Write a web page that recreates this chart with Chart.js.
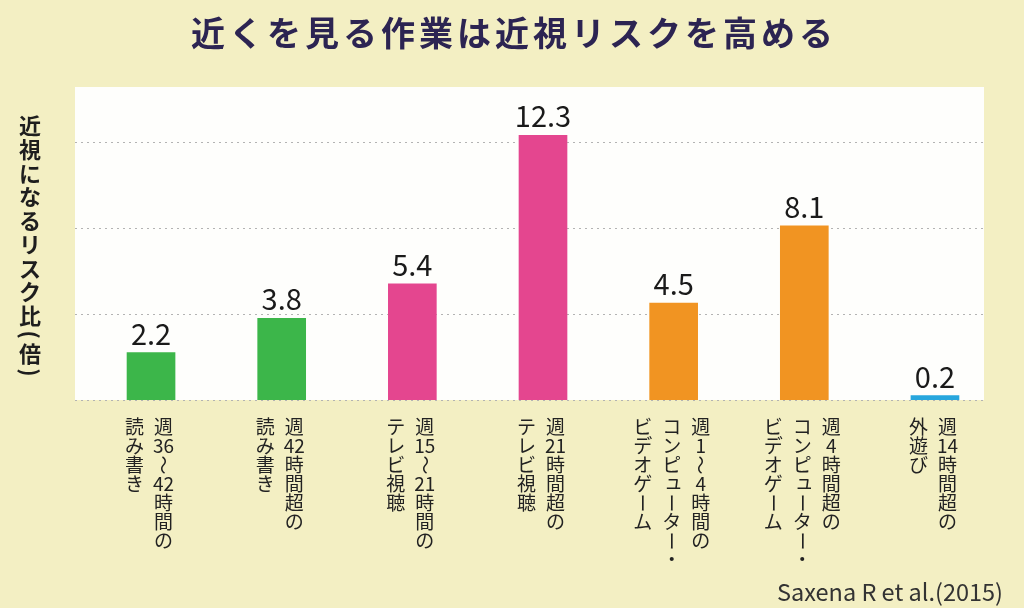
<!DOCTYPE html>
<html><head><meta charset="utf-8">
<script src="https://cdn.jsdelivr.net/npm/chart.js@4"></script>
<style>html,body{margin:0;padding:0;background:#f3efc3;}#wrap{width:1024px;height:608px;position:relative}</style>
</head><body><div id="wrap"><canvas id="c" width="1024" height="608"></canvas></div>
<script>
const titleText = '近くを見る作業は近視リスクを高める';
const yAxisTitle = '近視になるリスク比(倍)';
const sourceText = 'Saxena R et al.(2015)';
const categories = [
  ['週36～42時間の', '読み書き'],
  ['週42時間超の', '読み書き'],
  ['週15～21時間の', 'テレビ視聴'],
  ['週21時間超の', 'テレビ視聴'],
  ['週1～4時間の', 'コンピューター・', 'ビデオゲーム'],
  ['週4時間超の', 'コンピューター・', 'ビデオゲーム'],
  ['週14時間超の', '外遊び']
];
const riskRatios = [2.2, 3.8, 5.4, 12.3, 4.5, 8.1, 0.2];
const valueLabels = ['2.2', '3.8', '5.4', '12.3', '4.5', '8.1', '0.2'];
const gridTicks = [0, 4, 8, 12];
const barColors = ['#3cb64a', '#3cb64a', '#e4468f', '#e4468f', '#f19422', '#f19422', '#27a6dd'];

const JP = '"Noto Sans CJK JP", "Noto Sans", sans-serif';
const ROTATE = new Set(['ー', '～', '(', ')', '（', '）']);
const SMALL = new Set(['ュ', 'ッ', 'ャ', 'ョ', 'ィ', 'ェ']);
const HALF = new Set(['(', ')']);

function tokenize(s) {
  const out = [];
  for (const ch of s) {
    if (/[0-9]/.test(ch) && out.length && /^[0-9]+$/.test(out[out.length - 1])) out[out.length - 1] += ch;
    else out.push(ch);
  }
  return out;
}
function drawVertical(ctx, str, x, y0, step) {
  let y = y0;
  const toks = tokenize(str);
  toks.forEach((t, i) => {
    if (i > 0) {
      const prevHalf = HALF.has(toks[i - 1]);
      const curHalf = HALF.has(t);
      y += step * ((prevHalf ? 0.3 : 0.5) + (curHalf ? 0.3 : 0.5));
    }
    if (ROTATE.has(t)) {
      ctx.save(); ctx.translate(x, y); ctx.rotate(Math.PI / 2); ctx.fillText(t, 0, 0); ctx.restore();
    } else if (SMALL.has(t)) {
      ctx.fillText(t, x + step * 0.1, y - step * 0.1);
    } else {
      ctx.fillText(t, x, y);
    }
  });
}

const decor = {
  id: 'decor',
  beforeDraw(chart) {
    const ctx = chart.ctx;
    const ys = chart.scales.y;
    ctx.save();
    ctx.fillStyle = '#f3efc3';
    ctx.fillRect(0, 0, chart.width, chart.height);
    const top = ys.getPixelForValue(14.5) - 1;
    const bottom = ys.getPixelForValue(0);
    ctx.fillStyle = '#fefefc';
    ctx.fillRect(75, top, 984 - 75, bottom - top);
    ctx.restore();
  },
  beforeDatasetsDraw(chart) {
    const ctx = chart.ctx;
    const ys = chart.scales.y;
    ctx.save();
    ctx.strokeStyle = '#b3b3b3';
    ctx.lineWidth = 1;
    ctx.setLineDash([2, 4]);
    gridTicks.forEach(v => {
      const y = Math.round(ys.getPixelForValue(v)) + 0.5;
      ctx.beginPath(); ctx.moveTo(75, y); ctx.lineTo(984, y); ctx.stroke();
    });
    ctx.restore();
  },
  afterDatasetsDraw(chart) {
    const ctx = chart.ctx;
    const meta = chart.getDatasetMeta(0);
    const xs = chart.scales.x;
    ctx.save();
    // value labels
    ctx.fillStyle = '#1a1a1a';
    ctx.font = '29px ' + JP;
    ctx.textAlign = 'center';
    ctx.textBaseline = 'alphabetic';
    meta.data.forEach((bar, i) => {
      ctx.fillText(valueLabels[i], bar.x, bar.y - 8);
    });
    // category labels (vertical)
    ctx.font = '19px ' + JP;
    ctx.fillStyle = '#222';
    ctx.textBaseline = 'middle';
    categories.forEach((cols, i) => {
      const cx = xs.getPixelForValue(i) - 2;
      const n = cols.length;
      cols.forEach((col, j) => {
        const x = cx + ((n - 1) / 2 - j) * 29;
        drawVertical(ctx, col, x, 427, 19);
      });
    });
    // y axis title
    ctx.font = 'bold 22px ' + JP;
    ctx.fillStyle = '#1e1e1e';
    drawVertical(ctx, yAxisTitle, 30, 126, 23.7);
    // title
    ctx.font = 'bold 34px ' + JP;
    ctx.fillStyle = '#2c2452';
    const chars = Array.from(titleText);
    chars.forEach((c, k) => ctx.fillText(c, 208 + k * 38, 33));
    // source
    ctx.font = '23.5px ' + JP;
    ctx.fillStyle = '#333';
    ctx.textAlign = 'right';
    ctx.fillText(sourceText, 1003, 592);
    ctx.restore();
  }
};

new Chart(document.getElementById('c'), {
  type: 'bar',
  data: {
    labels: categories.map(c => c.join('')),
    datasets: [{
      data: riskRatios,
      backgroundColor: barColors,
      borderWidth: 0,
      barThickness: 48
    }]
  },
  options: {
    responsive: false,
    animation: false,
    devicePixelRatio: 1,
    layout: { padding: { left: 85.7, right: 23.7, top: 88, bottom: 208 } },
    scales: {
      x: { display: false, offset: true },
      y: { display: false, min: 0, max: 14.5 }
    },
    plugins: { legend: { display: false }, tooltip: { enabled: false }, title: { display: false } }
  },
  plugins: [decor]
});
</script>
</body></html>
